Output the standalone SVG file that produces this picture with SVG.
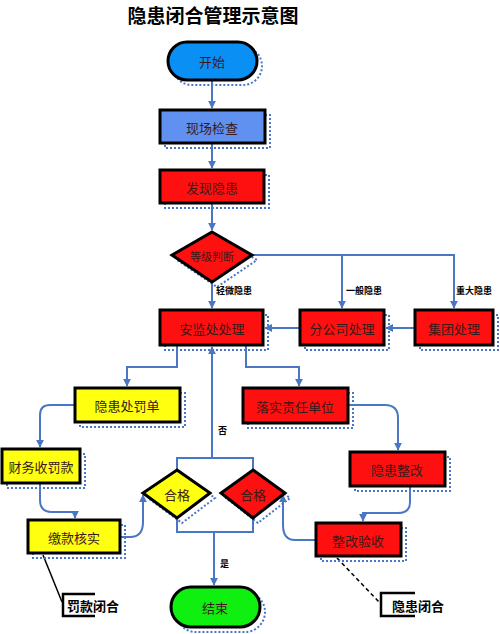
<svg xmlns="http://www.w3.org/2000/svg" width="500" height="634" viewBox="0 0 500 634">
<defs>
<marker id="ah" viewBox="0 0 10 10" refX="9" refY="5" markerWidth="4" markerHeight="4" orient="auto-start-reverse">
<path d="M0,0 L10,5 L0,10 z" fill="#4a76c6"/>
</marker>
<style>
.t{font-family:"Noto Sans CJK SC","Noto Sans",sans-serif;font-size:13px;fill:#3a1a1a;text-anchor:middle;dominant-baseline:central}
.lb{font-family:"Noto Sans CJK SC",sans-serif;font-size:9px;font-weight:bold;fill:#000}
.sh{fill:none;stroke:#4a76c6;stroke-width:2;stroke-dasharray:2,2}
.n{stroke:#000;stroke-width:3}
.c{fill:none;stroke:#4a76c6;stroke-width:2}
.red{fill:#ff1010}
.yel{fill:#ffff10}
</style>
</defs>
<rect width="500" height="634" fill="#fff"/>
<text x="213" y="14" font-family="Noto Sans CJK SC,sans-serif" font-size="19" font-weight="bold" text-anchor="middle" dominant-baseline="central" fill="#000">隐患闭合管理示意图</text>

<g id="connectors">
<path class="c" d="M212,80 V108" marker-end="url(#ah)"/>
<path class="c" d="M212,143 V168" marker-end="url(#ah)"/>
<path class="c" d="M212,203 V230" marker-end="url(#ah)"/>
<path class="c" d="M212,282 V308" marker-end="url(#ah)"/>
<path class="c" d="M252,255 H454 V308" marker-end="url(#ah)"/>
<path class="c" d="M342,255 V308" marker-end="url(#ah)"/>
<path class="c" d="M415,328 H386" marker-end="url(#ah)"/>
<path class="c" d="M300,328 H265" marker-end="url(#ah)"/>
<path class="c" d="M177,345 V367 H127 V386" marker-end="url(#ah)"/>
<path class="c" d="M246,345 V367 H299 V386" marker-end="url(#ah)"/>
<path class="c" d="M75,405 H50 Q40,405 40,415 V447" marker-end="url(#ah)"/>
<path class="c" d="M40,483 V500 Q40,512 52,512 H75 V518" marker-end="url(#ah)"/>
<path class="c" d="M120,537 H130 Q143,537 143,522 V495" marker-end="url(#ah)"/>
<path class="c" d="M348,405 H385 Q398,405 398,418 V450" marker-end="url(#ah)"/>
<path class="c" d="M410,486 V502 Q410,513 398,513 H363 V521" marker-end="url(#ah)"/>
<path class="c" d="M316,540 H295 Q283,540 283,525 V495" marker-end="url(#ah)"/>
<path class="c" d="M177,470 V458 H253 V470"/>
<path class="c" d="M212,458 V347" marker-end="url(#ah)"/>
<path class="c" d="M177,518 V532 H253 V518"/>
<path class="c" d="M214,532 V585" marker-end="url(#ah)"/>
<path fill="none" stroke="#000" stroke-width="1.5" d="M43,555 L62,602"/>
<path fill="none" stroke="#000" stroke-width="1.5" stroke-dasharray="4,3" d="M337,558 L380,603"/>
</g>
<text class="lb" x="216" y="290" dominant-baseline="central">轻微隐患</text>
<text class="lb" x="346" y="290" dominant-baseline="central">一般隐患</text>
<text class="lb" x="456" y="290" dominant-baseline="central">重大隐患</text>
<text class="lb" x="218" y="430" dominant-baseline="central">否</text>
<text class="lb" x="220" y="563" dominant-baseline="central">是</text>

<g id="start">
<rect class="sh" x="173" y="47" width="89" height="38" rx="19"/>
<rect class="n" x="168" y="42" width="89" height="38" rx="19" fill="#0a90f5"/>
<text class="t" x="212" y="61">开始</text>
</g>
<g id="inspect">
<rect class="sh" x="165" y="115" width="105" height="33"/>
<rect class="n" x="160" y="110" width="105" height="33" fill="#6090f0"/>
<text class="t" x="212" y="127">现场检查</text>
</g>
<g id="find">
<rect class="sh" x="165" y="175" width="104" height="33"/>
<rect class="n red" x="160" y="170" width="104" height="33"/>
<text class="t" x="212" y="187">发现隐患</text>
</g>
<g id="judge">
<path class="sh" d="M217,237 L257,260 L217,287 L177,260 z"/>
<path class="n red" d="M212,232 L252,255 L212,282 L172,255 z"/>
<text class="t" x="212" y="256" style="font-size:11px">等级判断</text>
</g>
<g id="ajc">
<rect class="sh" x="165" y="315" width="103" height="35"/>
<rect class="n red" x="160" y="310" width="103" height="35"/>
<text class="t" x="212" y="328">安监处处理</text>
</g>
<g id="fgs">
<rect class="sh" x="305" y="315" width="84" height="35"/>
<rect class="n red" x="300" y="310" width="84" height="35"/>
<text class="t" x="342" y="328">分公司处理</text>
</g>
<g id="jt">
<rect class="sh" x="420" y="315" width="78" height="35"/>
<rect class="n red" x="415" y="310" width="78" height="35"/>
<text class="t" x="454" y="328">集团处理</text>
</g>
<g id="cfd">
<rect class="sh" x="80" y="393" width="105" height="34"/>
<rect class="n yel" x="75" y="388" width="105" height="34"/>
<text class="t" x="127" y="405">隐患处罚单</text>
</g>
<g id="lszr">
<rect class="sh" x="248" y="393" width="105" height="35"/>
<rect class="n red" x="243" y="388" width="105" height="35"/>
<text class="t" x="295" y="406">落实责任单位</text>
</g>
<g id="cwsfk">
<rect class="sh" x="7" y="454" width="78" height="34"/>
<rect class="n yel" x="2" y="449" width="78" height="34"/>
<text class="t" x="41" y="466">财务收罚款</text>
</g>
<g id="yhzg">
<rect class="sh" x="355" y="457" width="95" height="34"/>
<rect class="n red" x="350" y="452" width="95" height="34"/>
<text class="t" x="397" y="469">隐患整改</text>
</g>
<g id="hg1">
<path class="sh" d="M182,475 L215,498 L182,523 L148,498 z"/>
<path class="n yel" d="M177,470 L210,493 L177,518 L143,493 z"/>
<text class="t" x="177" y="494">合格</text>
</g>
<g id="hg2">
<path class="sh" d="M258,475 L290,498 L258,523 L226,498 z"/>
<path class="n red" d="M253,470 L285,493 L253,518 L221,493 z"/>
<text class="t" x="253" y="494">合格</text>
</g>
<g id="jkhs">
<rect class="sh" x="33" y="525" width="92" height="33"/>
<rect class="n yel" x="28" y="520" width="92" height="33"/>
<text class="t" x="74" y="537">缴款核实</text>
</g>
<g id="zgys">
<rect class="sh" x="321" y="528" width="85" height="33"/>
<rect class="n red" x="316" y="523" width="85" height="33"/>
<text class="t" x="358" y="540">整改验收</text>
</g>
<g id="end">
<rect class="sh" x="176" y="592" width="89" height="40" rx="20"/>
<rect class="n" x="171" y="587" width="89" height="40" rx="20" fill="#10f010"/>
<text class="t" x="215" y="607">结束</text>
</g>
<g id="note1">
<path fill="none" stroke="#000" stroke-width="2.5" d="M95,594 H63 V616 H95"/>
<text x="67" y="605" font-family="Noto Sans CJK SC,sans-serif" font-size="13" font-weight="bold" dominant-baseline="central">罚款闭合</text>
</g>
<g id="note2">
<path fill="none" stroke="#000" stroke-width="2.5" d="M415,593 H381 V616 H415"/>
<text x="392" y="605" font-family="Noto Sans CJK SC,sans-serif" font-size="13" font-weight="bold" dominant-baseline="central">隐患闭合</text>
</g>
</svg>
